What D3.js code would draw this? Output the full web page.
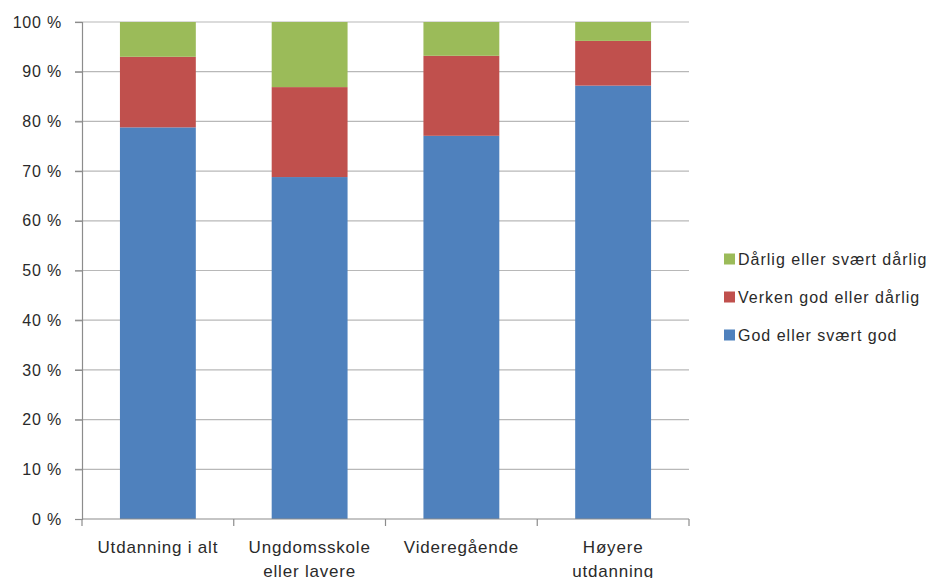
<!DOCTYPE html>
<html><head><meta charset="utf-8">
<script src="https://cdn.jsdelivr.net/npm/d3@7"></script>
<style>body{margin:0;background:#fff}svg{display:block}text{font-family:"Liberation Sans",Arial,sans-serif;fill:#2a2a2a}</style>
</head><body><svg id="c" width="934" height="578"></svg>
<script>
const categories = ["Utdanning i alt", "Ungdomsskole\neller lavere", "Videregående", "Høyere\nutdanning"];
const seriesNames = ["God eller svært god", "Verken god eller dårlig", "Dårlig eller svært dårlig"];
const godValues = [78.8, 68.8, 77.1, 87.2];
const verkenValues = [14.2, 18.1, 16.1, 9.0];
const darligValues = [7.0, 13.1, 6.8, 3.8];
const colors = ["#4F81BD", "#C0504D", "#9BBB59"];
const yTicks = [0,10,20,30,40,50,60,70,80,90,100];

const svg = d3.select("#c");
const pL = 82, pR = 689, pT = 22, pB = 519;
const x = d3.scaleBand().domain(categories).range([pL, pR]).paddingInner(0.5).paddingOuter(0.25);
const y = d3.scaleLinear().domain([0,100]).range([pB, pT]);

const rows = categories.map((c,i)=>({cat:c, s0:godValues[i], s1:verkenValues[i], s2:darligValues[i]}));
const stack = d3.stack().keys(["s0","s1","s2"])(rows);

// gridlines
svg.append("g").selectAll("line").data(yTicks.filter(t=>t>0)).join("line")
  .attr("x1", pL-7).attr("x2", pR).attr("y1", d=>y(d)).attr("y2", d=>y(d))
  .attr("stroke", "#b8b8b8").attr("stroke-width", 1.2);

// bars
svg.append("g").selectAll("g").data(stack).join("g").attr("fill",(d,i)=>colors[i])
  .selectAll("rect").data(d=>d).join("rect")
  .attr("x", d=>x(d.data.cat)).attr("width", x.bandwidth())
  .attr("y", d=>y(d[1])).attr("height", d=>y(d[0])-y(d[1]));

// y axis
const ya = svg.append("g").attr("transform", `translate(${pL},0)`)
  .call(d3.axisLeft(y).tickValues(yTicks).tickFormat(d=>d+" %").tickSize(7).tickPadding(13));
ya.select(".domain").attr("stroke","#8c8c8c").attr("stroke-width",1.2);
ya.selectAll(".tick line").attr("stroke","#8c8c8c").attr("stroke-width",1.2);
ya.selectAll("text").attr("font-size", 16).attr("letter-spacing", 0.8).attr("fill","#2a2a2a")
  .style("font-family","'Liberation Sans',Arial,sans-serif");

// x axis
const xa = svg.append("g").attr("transform", `translate(0,${pB})`);
xa.append("line").attr("x1", pL).attr("x2", pR).attr("stroke","#8c8c8c").attr("stroke-width",1.2);
const bounds = categories.map((c,i)=> pL + i*(pR-pL)/categories.length).concat([pR]);
xa.selectAll("line.tk").data(bounds).join("line").attr("class","tk")
  .attr("x1", d=>d).attr("x2", d=>d).attr("y1",0).attr("y2",7).attr("stroke","#8c8c8c").attr("stroke-width",1.2);
xa.selectAll("text").data(categories).join("text")
  .attr("text-anchor","middle").attr("font-size",17).attr("letter-spacing",0.8)
  .attr("transform", d=>`translate(${x(d)+x.bandwidth()/2},34)`)
  .each(function(d){
    d.split("\n").forEach((l,i)=>d3.select(this).append("tspan").attr("x",0).attr("y", i*24).text(l));
  });

// legend
const lg = svg.append("g").attr("transform","translate(724,0)");
const legendOrder = [2,1,0];
const legendY = [259, 297, 335];
legendOrder.forEach((si,k)=>{
  lg.append("rect").attr("x",0).attr("y",legendY[k]-5.5).attr("width",11).attr("height",11).attr("fill",colors[si]);
  lg.append("text").attr("x",14).attr("y",legendY[k]+6).attr("font-size",16).attr("letter-spacing",1).text(seriesNames[si]);
});
</script></body></html>
